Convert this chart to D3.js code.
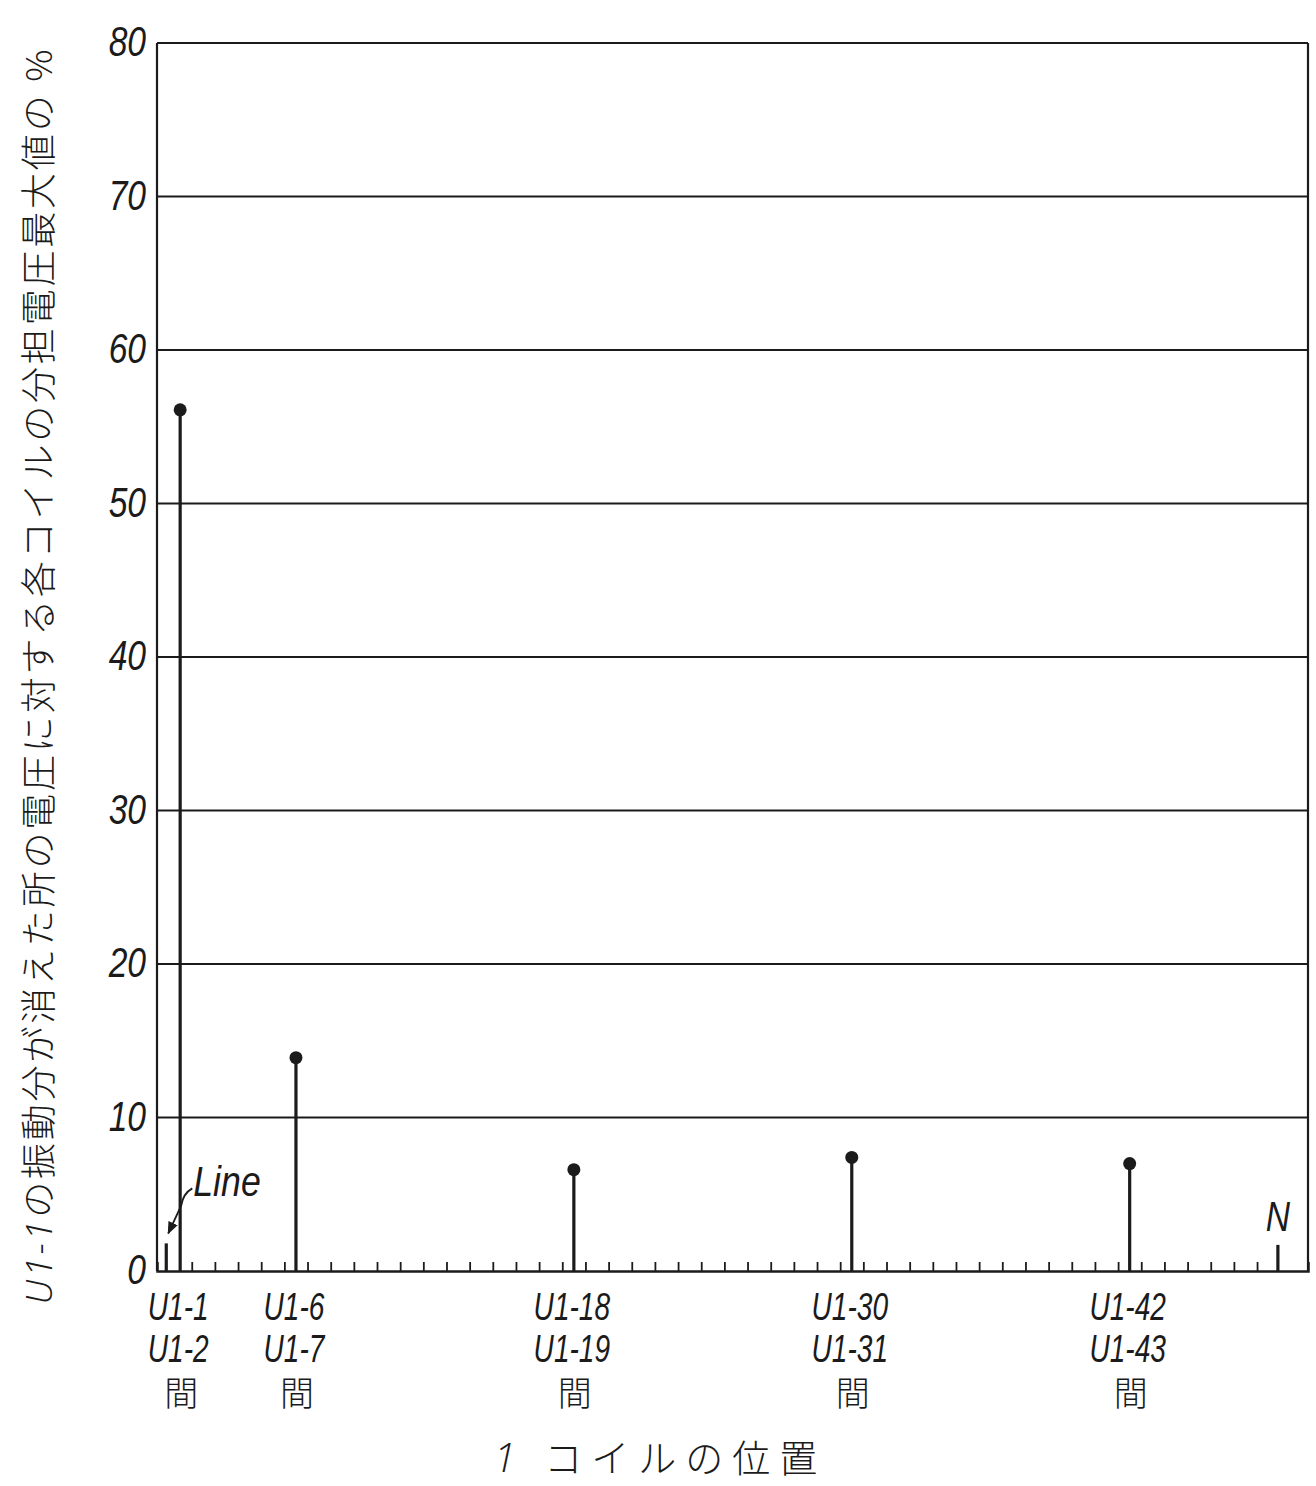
<!DOCTYPE html>
<html>
<head>
<meta charset="utf-8">
<script src="https://cdn.jsdelivr.net/npm/d3@7"></script>
<style>
  html, body { margin: 0; padding: 0; background: #ffffff; }
  svg { display: block; }
  .latin { font-family: "Liberation Sans", Arial, sans-serif; font-style: italic; }
  .latin-light { font-family: "Open Sans", "Liberation Sans", sans-serif; font-style: italic; font-weight: 300; }
  .cjk { font-family: "Noto Sans CJK JP", "Noto Sans CJK SC", sans-serif; }
</style>
</head>
<body>
<script>
// Coil-junction positions (in coil units from the line end) and the share of voltage (%)
const barPositions = [1, 6, 18, 30, 42];
const barValues = [56.1, 13.9, 6.6, 7.4, 7.0];
const barLabels1 = ["U1-1", "U1-6", "U1-18", "U1-30", "U1-42"];
const barLabels2 = ["U1-2", "U1-7", "U1-19", "U1-31", "U1-43"];
const barLabels3 = ["間", "間", "間", "間", "間"];

// Terminal stubs: line terminal and neutral
const terminalNames = ["Line", "N"];
const terminalPositions = [0.4, 48.4];
const terminalValues = [1.8, 1.7];

// Coil centres marked along the base line
const coilTicks = d3.range(2, 49).map(k => k - 0.5);

const yTicks = [0, 10, 20, 30, 40, 50, 60, 70, 80];
const yTitle = "の振動分が消えた所の電圧に対する各コイルの分担電圧最大値の %";
const yTitleLead = "U1-1";
const xTitle = "コイルの位置";
const xTitleLead = "1";

const W = 1316, H = 1486;
const frame = { left: 157, right: 1308, top: 43, bottom: 1271 };
const xMax = 49.7;
const narrow = 0.74; // horizontal squeeze for the drafting-style lettering

const svg = d3.select("body").append("svg").attr("width", W).attr("height", H);

const x = d3.scaleLinear().domain([0, xMax]).range([frame.left, frame.right]);
const y = d3.scaleLinear().domain([0, 80]).range([frame.bottom, frame.top]);

const ink = "#1b1b1b";

// Horizontal grid lines (the 80 line closes the top of the frame)
svg.append("g").selectAll("line").data(yTicks.filter(d => d > 0)).join("line")
  .attr("x1", x(0)).attr("x2", x(xMax))
  .attr("y1", d => y(d)).attr("y2", d => y(d))
  .attr("stroke", ink).attr("stroke-width", 2);

// Left and right borders
svg.append("line").attr("x1", x(0)).attr("x2", x(0)).attr("y1", y(80)).attr("y2", y(0))
  .attr("stroke", ink).attr("stroke-width", 2.2);
svg.append("line").attr("x1", x(xMax)).attr("x2", x(xMax)).attr("y1", y(80)).attr("y2", y(0))
  .attr("stroke", ink).attr("stroke-width", 2.2);

// Bottom axis with coil ticks pointing inward
const xAxis = d3.axisBottom(x).tickValues(coilTicks).tickSize(-9).tickFormat("");
const gx = svg.append("g").attr("transform", `translate(0,${y(0)})`).call(xAxis);
gx.select(".domain").attr("stroke", ink).attr("stroke-width", 2.5);
gx.selectAll(".tick line").attr("stroke", ink).attr("stroke-width", 1.8);

// Y tick labels
const yAxis = d3.axisLeft(y).tickValues(yTicks).tickSize(0).tickPadding(0).tickFormat(d3.format("d"));
const gy = svg.append("g").attr("transform", `translate(${x(0) - 11},0)`).call(yAxis);
gy.select(".domain").remove();
gy.selectAll(".tick text")
  .attr("class", "latin")
  .attr("x", 0)
  .attr("font-size", 42)
  .attr("fill", ink)
  .attr("dy", "0.3em")
  .attr("transform", "scale(0.8,1)");

// Stems with dots
const stems = svg.append("g");
stems.selectAll("line").data(barPositions).join("line")
  .attr("x1", d => x(d)).attr("x2", d => x(d))
  .attr("y1", y(0)).attr("y2", (d, i) => y(barValues[i]))
  .attr("stroke", ink).attr("stroke-width", 3.2);
stems.selectAll("circle").data(barPositions).join("circle")
  .attr("cx", d => x(d)).attr("cy", (d, i) => y(barValues[i]))
  .attr("r", 6.5).attr("fill", ink);

// Terminal stubs
svg.append("g").selectAll("line").data(terminalPositions).join("line")
  .attr("x1", d => x(d)).attr("x2", d => x(d))
  .attr("y1", y(0)).attr("y2", (d, i) => y(terminalValues[i]))
  .attr("stroke", ink).attr("stroke-width", 3.2);

// "Line" callout with arrow
svg.append("defs").append("marker")
  .attr("id", "arrowhead").attr("viewBox", "0 0 10 10")
  .attr("refX", 9).attr("refY", 5)
  .attr("markerWidth", 7).attr("markerHeight", 7)
  .attr("orient", "auto-start-reverse")
  .append("path").attr("d", "M0,1 L10,5 L0,9 z").attr("fill", ink);

const lx = x(terminalPositions[0]), ly = y(terminalValues[0]);
svg.append("path")
  .attr("d", `M${lx + 26},${ly - 55} Q${lx + 17},${ly - 50} ${lx + 15},${ly - 38} L${lx + 2},${ly - 10}`)
  .attr("fill", "none").attr("stroke", ink).attr("stroke-width", 1.8)
  .attr("marker-end", "url(#arrowhead)");
svg.append("text")
  .attr("class", "latin")
  .attr("transform", `translate(${lx + 27},${ly - 47}) scale(0.85,1)`)
  .attr("font-size", 42).attr("fill", ink)
  .text(terminalNames[0]);

svg.append("text")
  .attr("class", "latin")
  .attr("transform", `translate(${x(terminalPositions[1])},${y(terminalValues[1]) - 14}) scale(0.8,1)`)
  .attr("text-anchor", "middle")
  .attr("font-size", 42).attr("fill", ink)
  .text(terminalNames[1]);

// Category labels below the axis
const labels = svg.append("g");
labels.selectAll("text.l1").data(barLabels1).join("text")
  .attr("class", "latin l1")
  .attr("transform", (d, i) => `translate(${x(barPositions[i]) - 2},${y(0) + 49}) scale(${narrow},1)`)
  .attr("text-anchor", "middle").attr("font-size", 38).attr("fill", ink)
  .text(d => d);
labels.selectAll("text.l2").data(barLabels2).join("text")
  .attr("class", "latin l2")
  .attr("transform", (d, i) => `translate(${x(barPositions[i]) - 2},${y(0) + 91}) scale(${narrow},1)`)
  .attr("text-anchor", "middle").attr("font-size", 38).attr("fill", ink)
  .text(d => d);
labels.selectAll("text.l3").data(barLabels3).join("text")
  .attr("class", "cjk l3")
  .attr("x", (d, i) => x(barPositions[i]) + 1).attr("y", y(0) + 135)
  .attr("text-anchor", "middle").attr("font-size", 34).attr("font-weight", 300).attr("fill", ink)
  .text(d => d);

// X-axis title
const xt = svg.append("text")
  .attr("class", "cjk")
  .attr("x", 660).attr("y", 1472)
  .attr("text-anchor", "middle").attr("font-size", 38).attr("font-weight", 300)
  .attr("letter-spacing", 9).attr("fill", ink);
xt.append("tspan").attr("class", "latin-light").attr("font-size", 40).text(xTitleLead + " ");
xt.append("tspan").text(xTitle);

// Y-axis title (vertical)
const yt = svg.append("text")
  .attr("class", "cjk")
  .attr("transform", `translate(52,${(frame.top + frame.bottom) / 2 + 20}) rotate(-90)`)
  .attr("text-anchor", "middle").attr("font-size", 36).attr("font-weight", 300)
  .attr("fill", ink)
  .attr("textLength", 1255).attr("lengthAdjust", "spacing");
yt.append("tspan").attr("class", "latin-light").attr("font-size", 36).text(yTitleLead);
yt.append("tspan").text(yTitle);
</script>
</body>
</html>
